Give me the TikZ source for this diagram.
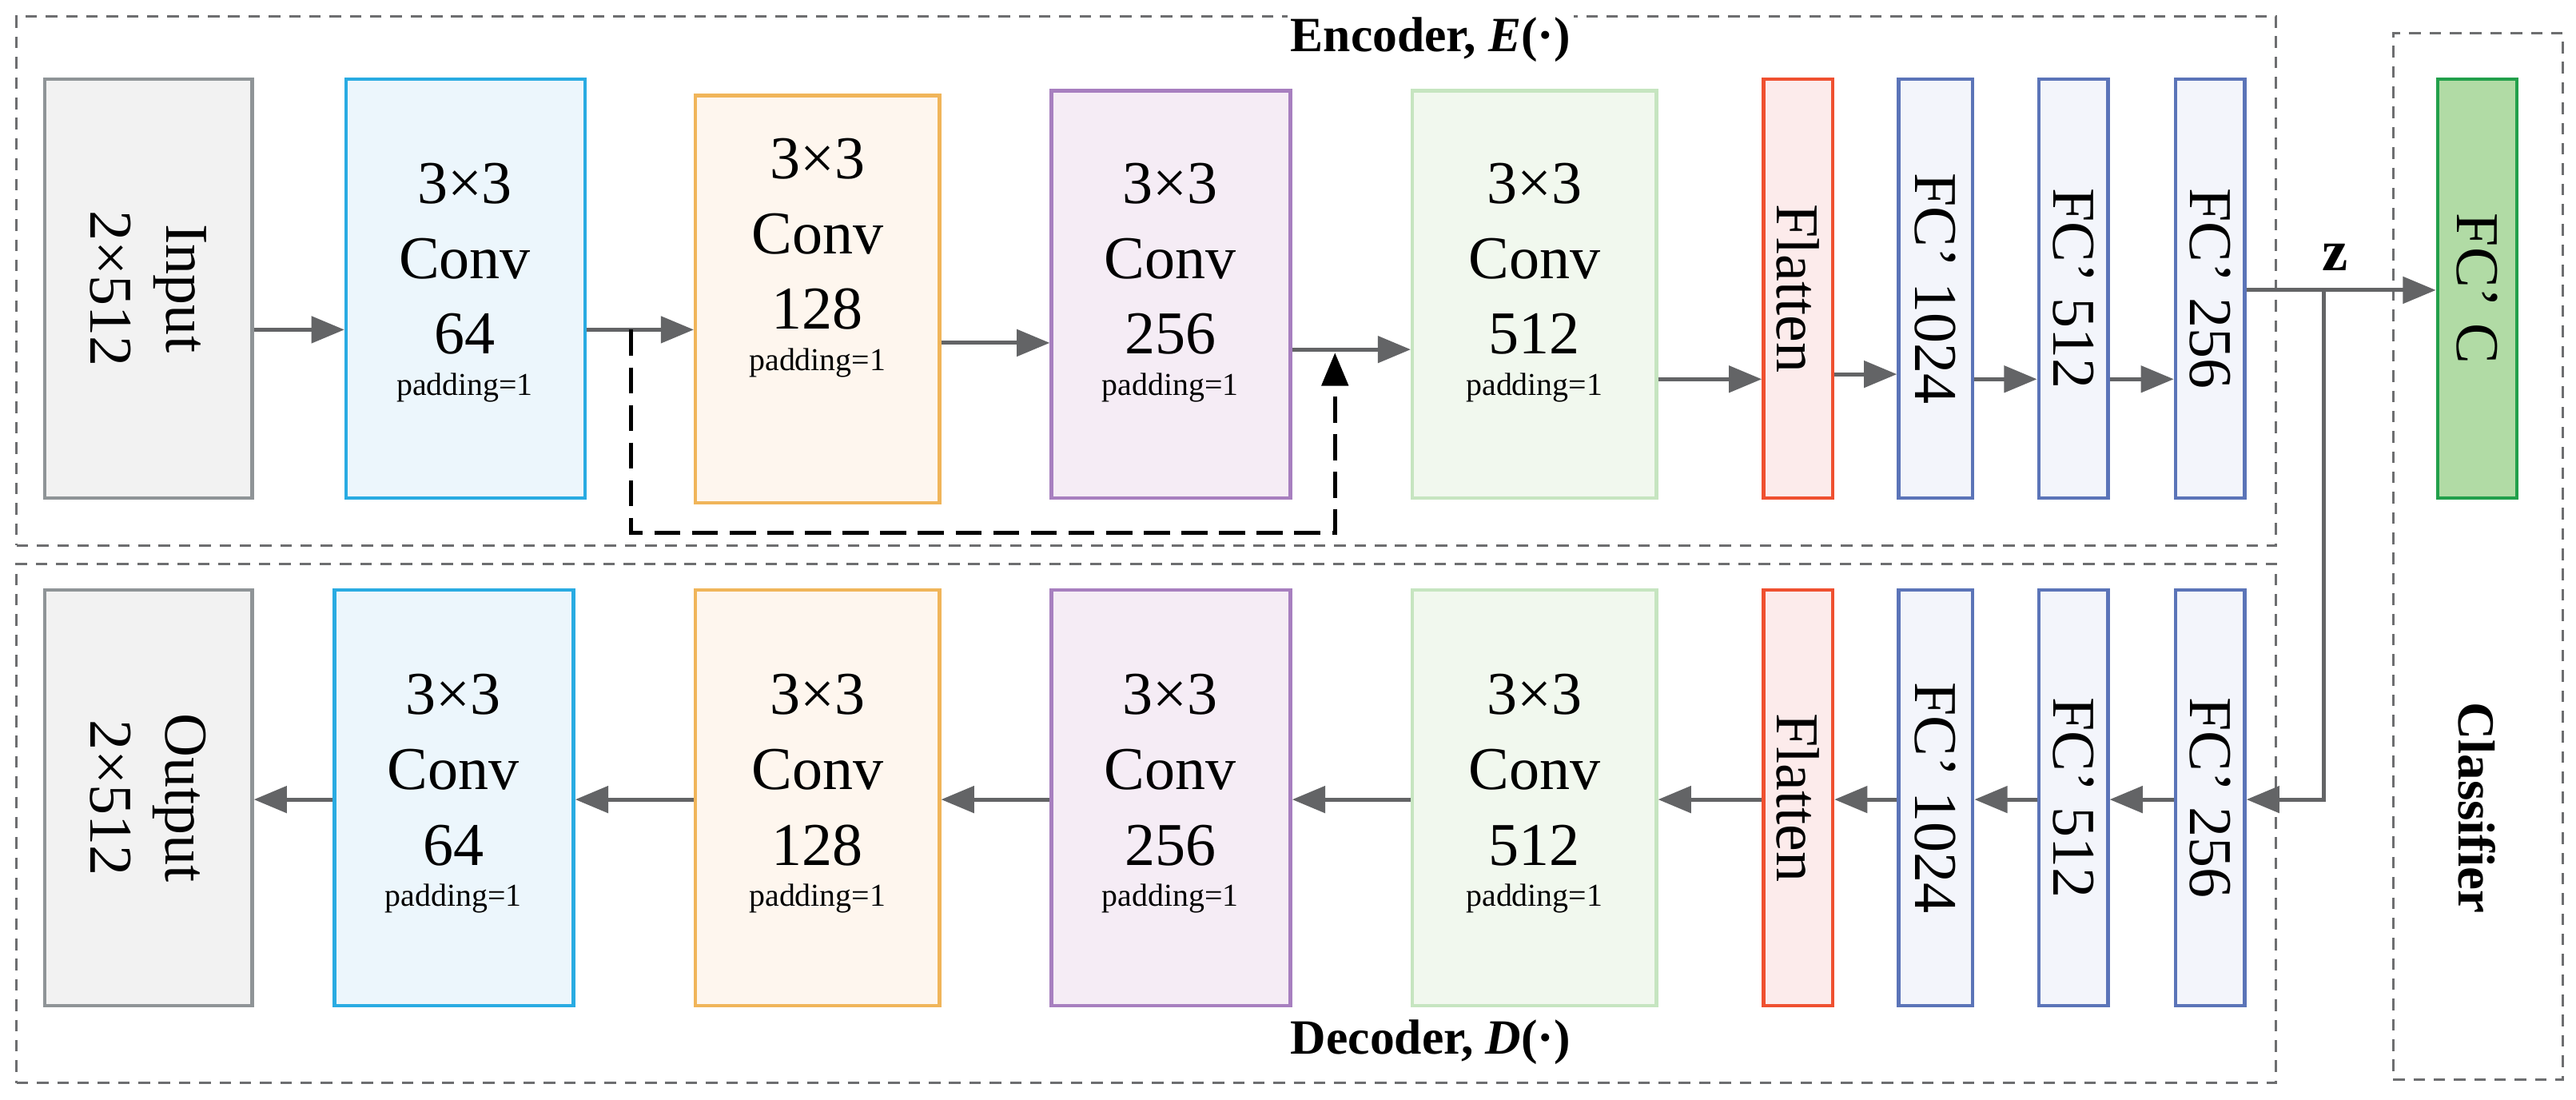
\documentclass[tikz,border=0pt]{standalone}
\usepackage{fontspec}
\setmainfont{Liberation Serif}
\usetikzlibrary{arrows.meta,calc,positioning}
\definecolor{ar}{HTML}{636466}
\definecolor{dg}{HTML}{6D6E70}
\definecolor{cBd}{RGB}{41,171,226}\definecolor{cBf}{RGB}{236,246,252}
\definecolor{cOd}{RGB}{240,181,90}\definecolor{cOf}{RGB}{254,246,238}
\definecolor{cPd}{RGB}{167,127,191}\definecolor{cPf}{RGB}{245,236,245}
\definecolor{cGd}{RGB}{198,229,192}\definecolor{cGf}{RGB}{241,248,238}
\definecolor{cRd}{RGB}{239,80,48}\definecolor{cRf}{RGB}{252,235,235}
\definecolor{cFd}{RGB}{91,116,184}\definecolor{cFf}{RGB}{243,245,251}
\definecolor{cCd}{RGB}{34,160,75}\definecolor{cCf}{RGB}{177,219,165}
\definecolor{gyd}{RGB}{143,148,151}\definecolor{gyf}{RGB}{242,242,242}
\tikzset{
 x=0.02cm,y=-0.02cm,
 blk/.style={draw,line width=1.2pt,inner sep=0pt},
 gr/.style={blk,draw=gyd,fill=gyf},
 cb/.style={blk,draw=cBd,fill=cBf},
 co/.style={blk,draw=cOd,fill=cOf},
 cp/.style={blk,draw=cPd,fill=cPf},
 cg/.style={blk,draw=cGd,fill=cGf},
 fl/.style={blk,draw=cRd,fill=cRf},
 fc/.style={blk,draw=cFd,fill=cFf},
 fcc/.style={blk,draw=cCd,fill=cCf},
 frame/.style={draw=dg,line width=0.8pt,dash pattern=on 4pt off 3pt,inner sep=0pt},
 big/.style={font=\fontsize{21}{26}\selectfont,align=center,inner sep=0pt},
 rot/.style={font=\fontsize{21}{26}\selectfont,align=center,inner sep=0pt,rotate=-90},
 small/.style={font=\fontsize{11}{13}\selectfont,inner sep=0pt},
 ttl/.style={font=\fontsize{17}{20}\selectfont\bfseries,inner sep=1pt},
 arr/.style={draw=ar,line width=1.4pt,-{Triangle[length=0.4cm,width=0.32cm]}},
}
\newcommand{\cbox}[6]{%
 \node[#2,minimum width={(#5-#3)*0.02cm},minimum height={(#6-#4)*0.02cm}] (#1) at ({(#3+#5)/2},{(#4+#6)/2}) {};}
\newcommand{\ctext}[4]{%
 \node[big] (#1a) at (#2,#3) {3×3\\Conv\\#4};
 \node[small,below=6pt of #1a] (#1b) {padding=1};}
\begin{document}
\begin{tikzpicture}
\useasboundingbox (0,0) rectangle (1563,667);
\node[frame,minimum width=27.42cm,minimum height=6.42cm] (enc) at (695.5,170.5) {};
\node[frame,minimum width=27.42cm,minimum height=6.3cm] (dec) at (695.5,499.5) {};
\node[frame,minimum width=2.06cm,minimum height=12.7cm] (cls) at (1503.5,337.5) {};
\node[ttl,fill=white] (enct) at (868,24) {Encoder, \textit{E}(·)};
\node[ttl,fill=white] (dect) at (868,632) {Decoder, \textit{D}(·)};
\node[ttl,font=\fontsize{18}{20}\selectfont\bfseries,rotate=-90] (clst) at (1503,490) {Classifier};
\cbox{in}{gr}{27}{48}{153}{302}
\node[rot] at (in) {Input\\2×512};
\cbox{e1}{cb}{210}{48}{355}{302}
\ctext{te1}{282}{157}{64}
\cbox{e2}{co}{422}{58}{570}{305}
\ctext{te2}{496}{142}{128}
\cbox{e3}{cp}{638}{55}{783}{302}
\ctext{te3}{710}{157}{256}
\cbox{e4}{cg}{857}{55}{1005}{302}
\ctext{te4}{931}{157}{512}
\cbox{ef}{fl}{1070}{48}{1112}{302}
\node[rot] at (ef) {Flatten};
\cbox{ea}{fc}{1152}{48}{1197}{302}
\node[rot] at (ea) {FC’ 1024};
\cbox{eb}{fc}{1237}{48}{1279}{302}
\node[rot] at (eb) {FC’ 512};
\cbox{ec}{fc}{1320}{48}{1362}{302}
\node[rot] at (ec) {FC’ 256};
\cbox{cc}{fcc}{1479}{48}{1527}{302}
\node[rot] at (cc) {FC’ C};
\cbox{out}{gr}{27}{358}{153}{610}
\node[rot] at (out) {Output\\2×512};
\cbox{d1}{cb}{203}{358}{348}{610}
\ctext{td1}{275}{467}{64}
\cbox{d2}{co}{422}{358}{570}{610}
\ctext{td2}{496}{467}{128}
\cbox{d3}{cp}{638}{358}{783}{610}
\ctext{td3}{710}{467}{256}
\cbox{d4}{cg}{857}{358}{1005}{610}
\ctext{td4}{931}{467}{512}
\cbox{df}{fl}{1070}{358}{1112}{610}
\node[rot] at (df) {Flatten};
\cbox{da}{fc}{1152}{358}{1197}{610}
\node[rot] at (da) {FC’ 1024};
\cbox{db}{fc}{1237}{358}{1279}{610}
\node[rot] at (db) {FC’ 512};
\cbox{dc}{fc}{1320}{358}{1362}{610}
\node[rot] at (dc) {FC’ 256};
\draw[arr] (in.east|-0,200) -- (e1.west|-0,200);
\draw[arr] (e1.east|-0,200) -- (e2.west|-0,200);
\draw[arr] (e2.east|-0,208) -- (e3.west|-0,208);
\draw[arr] (e3.east|-0,212) -- (e4.west|-0,212);
\draw[arr] (e4.east|-0,230) -- (ef.west|-0,230);
\draw[arr] (ef.east|-0,227) -- (ea.west|-0,227);
\draw[arr] (ea.east|-0,230) -- (eb.west|-0,230);
\draw[arr] (eb.east|-0,230) -- (ec.west|-0,230);
\coordinate (br) at (1410,176);
\draw[arr] (ec.east|-0,176) -- (cc.west|-0,176);
\node[ttl,font=\fontsize{20}{22}\selectfont\bfseries] (z) at (1417,156) {z};
\draw[arr] (br) -- (1410,485) -- (dc.east|-0,485);
\coordinate (s1) at (383,200);
\coordinate (s2) at (810,214);
\draw[line width=1.4pt,dash pattern=on 9pt off 4pt,-{Triangle[length=0.4cm,width=0.32cm]}] (s1) -- (383,323) -- (810,323) -- (s2);
\draw[arr] (dc.west|-0,485) -- (db.east|-0,485);
\draw[arr] (db.west|-0,485) -- (da.east|-0,485);
\draw[arr] (da.west|-0,485) -- (df.east|-0,485);
\draw[arr] (df.west|-0,485) -- (d4.east|-0,485);
\draw[arr] (d4.west|-0,485) -- (d3.east|-0,485);
\draw[arr] (d3.west|-0,485) -- (d2.east|-0,485);
\draw[arr] (d2.west|-0,485) -- (d1.east|-0,485);
\draw[arr] (d1.west|-0,485) -- (out.east|-0,485);
\end{tikzpicture}
\end{document}
